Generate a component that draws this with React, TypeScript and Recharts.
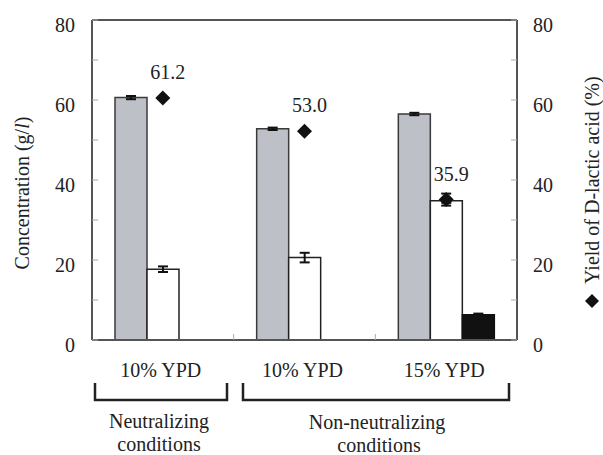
import { Bar, ComposedChart, ErrorBar, ReferenceLine, Scatter, XAxis, YAxis } from "recharts";

const categories = ["10% YPD", "10% YPD", "15% YPD"];
const grayValues = [60.6, 52.8, 56.5];
const grayErrors = [0.4, 0.3, 0.3];
const whiteValues = [17.7, 20.6, 34.8];
const whiteErrors = [0.7, 1.2, 0.5];
const blackValues = [null, null, 6.3];
const blackErrors = [null, null, 0.3];
const yieldValues = [60.5, 52.2, 35.1];
const yieldErrors = [0.2, 0.2, 1.5];
const yieldLabels = ["61.2", "53.0", "35.9"];
const yTicks = [0, 10, 20, 30, 40, 50, 60, 70, 80];

const data = categories.map((c, i) => ({
  idx: i,
  name: c,
  gray: grayValues[i],
  grayErr: grayErrors[i],
  white: whiteValues[i],
  whiteErr: whiteErrors[i],
  black: blackValues[i],
  blackErr: blackErrors[i],
  yield: yieldValues[i],
  yieldErr: yieldErrors[i],
  yieldLabel: yieldLabels[i],
}));

const FONT = '"Times New Roman", "Liberation Serif", "DejaVu Serif", serif';
const TEXT = "#222";
const FRAME = "#555";
const TICK = "#aaa";
const txt = { fontFamily: FONT, fontSize: 20 };

const LeftTick = (props: any) => {
  const { x, y, payload } = props;
  return (
    <g>
      <line x1={x + 17} x2={x + 23} y1={y} y2={y} stroke={TICK} />
      {payload.value % 20 === 0 && (
        <text x={x} y={y + 12} textAnchor="end" style={txt} fill={TEXT}>
          {payload.value}
        </text>
      )}
    </g>
  );
};

const RightTick = (props: any) => {
  const { x, y, payload } = props;
  return (
    <g>
      <line x1={x - 16} x2={x - 22} y1={y} y2={y} stroke={TICK} />
      {payload.value % 20 === 0 && (
        <text x={x} y={y + 12} textAnchor="start" style={txt} fill={TEXT}>
          {payload.value}
        </text>
      )}
    </g>
  );
};

const CategoryTick = (props: any) => {
  const { x, y, payload, index, width, visibleTicksCount } = props;
  const half = payload.offset || width / visibleTicksCount / 2;
  return (
    <g>
      {index < visibleTicksCount - 1 && (
        <line x1={x + half} x2={x + half} y1={y - 6} y2={y} stroke={TICK} />
      )}
      <text x={x - 2} y={y + 37} textAnchor="middle" style={txt} fill={TEXT}>
        {categories[payload.value]}
      </text>
    </g>
  );
};

const Diamond = (props: any) => {
  const { cx, cy, payload } = props;
  const r = 7.5;
  return (
    <g>
      <path d={`M${cx},${cy - r} L${cx + r},${cy} L${cx},${cy + r} L${cx - r},${cy} Z`} fill="#111" />
      <text x={cx + 5} y={cy - 19} textAnchor="middle" style={txt} fill={TEXT}>
        {payload.yieldLabel}
      </text>
    </g>
  );
};

export default function App() {
  return (
    <div style={{ position: "absolute", left: 0, top: 0, width: 603, height: 455, background: "#fff" }}>
      <ComposedChart
        width={603}
        height={455}
        data={data}
        margin={{ top: 20, right: 0, left: 0, bottom: 0 }}
        barGap={0}
      >
        <XAxis
          dataKey="idx"
          type="category"
          height={115}
          tickSize={0}
          tickMargin={0}
          interval={0}
          tick={<CategoryTick />}
          axisLine={{ stroke: FRAME, strokeWidth: 2 }}
        />
        <YAxis
          yAxisId="left"
          domain={[0, 80]}
          ticks={yTicks}
          interval={0}
          width={92}
          tickSize={0}
          tickMargin={17}
          tick={<LeftTick />}
          axisLine={{ stroke: FRAME, strokeWidth: 2 }}
        />
        <YAxis
          yAxisId="right"
          orientation="right"
          domain={[0, 80]}
          ticks={yTicks}
          interval={0}
          width={86}
          tickSize={0}
          tickMargin={16}
          tick={<RightTick />}
          axisLine={{ stroke: FRAME, strokeWidth: 2 }}
        />
        <ReferenceLine yAxisId="left" y={80} stroke={FRAME} strokeWidth={2} />
        <Bar yAxisId="left" dataKey="gray" barSize={32} fill="#bec0c7" stroke="#3a3a3a" strokeWidth={1.5} isAnimationActive={false}>
          <ErrorBar dataKey="grayErr" direction="y" width={5} stroke="#111" strokeWidth={2} />
        </Bar>
        <Bar yAxisId="left" dataKey="white" barSize={32} fill="#fff" stroke="#222" strokeWidth={1.5} isAnimationActive={false}>
          <ErrorBar dataKey="whiteErr" direction="y" width={5} stroke="#111" strokeWidth={2} />
        </Bar>
        <Bar yAxisId="left" dataKey="black" barSize={32} fill="#111" stroke="#111" strokeWidth={1.5} isAnimationActive={false}>
          <ErrorBar dataKey="blackErr" direction="y" width={5} stroke="#111" strokeWidth={2} />
        </Bar>
        <Scatter yAxisId="right" dataKey="yield" shape={Diamond} isAnimationActive={false}>
          <ErrorBar dataKey="yieldErr" direction="y" width={5} stroke="#111" strokeWidth={2} />
        </Scatter>
      </ComposedChart>
      <svg
        width={603}
        height={455}
        style={{ position: "absolute", left: 0, top: 0, pointerEvents: "none", ...txt }}
        fill={TEXT}
      >
        <text transform="rotate(-90 29 193)" x={29} y={193} textAnchor="middle">
          Concentration (g/<tspan fontStyle="italic">l</tspan>)
        </text>
        <path d="M592,294 L599,301 L592,308 L585,301 Z" fill="#111" />
        <text transform="rotate(-90 599 284)" x={599} y={284} textAnchor="start">
          Yield of D-lactic acid (%)
        </text>
        <path d="M95,383 L95,400 L227,400 L227,383" fill="none" stroke="#222" strokeWidth={2.5} />
        <path d="M243,383 L243,400 L509,400 L509,383" fill="none" stroke="#222" strokeWidth={2.5} />
        <text x={159} y={428} textAnchor="middle">Neutralizing</text>
        <text x={159} y={451} textAnchor="middle">conditions</text>
        <text x={377} y={429} textAnchor="middle">Non-neutralizing</text>
        <text x={379} y={452} textAnchor="middle">conditions</text>
      </svg>
    </div>
  );
}
